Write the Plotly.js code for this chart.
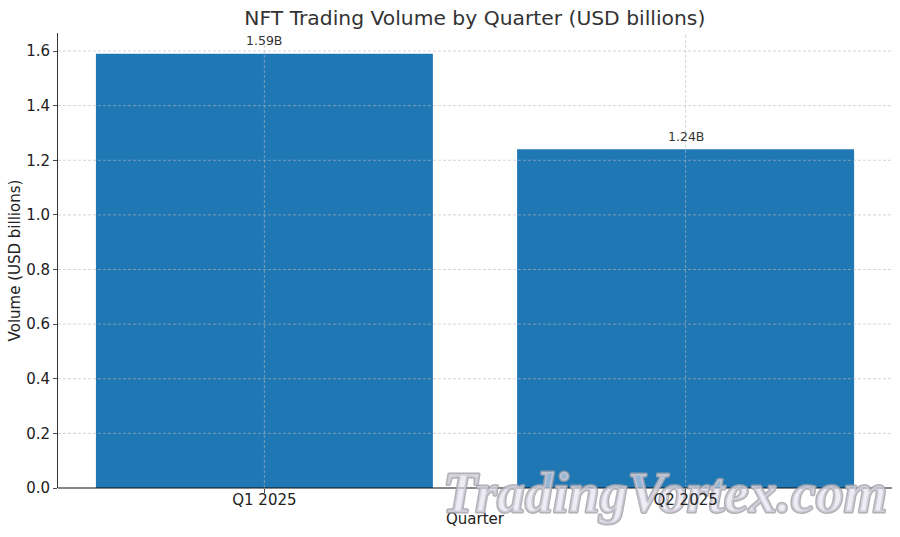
<!DOCTYPE html>
<html><head><meta charset="utf-8">
<script src="https://cdn.plot.ly/plotly-3.0.0.min.js"></script>
<style>
html,body{margin:0;padding:0;background:#fff}
g.annotation:last-of-type text{paint-order:stroke;stroke:rgba(165,165,172,0.85);stroke-width:3px;stroke-linejoin:round}
</style></head><body>
<div id="chart" style="width:900px;height:537px"></div>
<script>
const quarters = ["Q1 2025", "Q2 2025"];
const volumes = [1.59, 1.24];
const yTicks = [0, 0.2, 0.4, 0.6, 0.8, 1.0, 1.2, 1.4, 1.6];
const yLabels = ["0.0","0.2","0.4","0.6","0.8","1.0","1.2","1.4","1.6"];
const titleText = "NFT Trading Volume by Quarter (USD billions)";
const watermark = "TradingVortex.com";
const gridStyle = {color:"rgba(185,185,185,0.75)", width:0.8, dash:"3px,2px"};
const font = "DejaVu Sans, sans-serif";

const shapes = [];
yTicks.slice(1).forEach(v => shapes.push({type:"line",xref:"paper",x0:0,x1:1,yref:"y",y0:v,y1:v,line:gridStyle,layer:"above"}));
quarters.forEach(q => shapes.push({type:"line",yref:"paper",y0:0,y1:1,xref:"x",x0:q,x1:q,line:gridStyle,layer:"above"}));

const labels = quarters.map((q,i)=>({x:q,y:volumes[i],xref:"x",yref:"y",text:volumes[i].toFixed(2)+"B",showarrow:false,
  xanchor:"center",yanchor:"middle",yshift:13,font:{family:font,size:12.5,color:"#333333"}}));

Plotly.newPlot("chart",[{
  type:"bar", x:quarters, y:volumes, width:0.8,
  marker:{color:"#1f77b4",line:{width:0}}, hoverinfo:"skip"
}],{
  width:900,height:537,
  margin:{l:58,r:8.4,t:33,b:48.5,pad:0},
  paper_bgcolor:"#fff",plot_bgcolor:"#fff",
  showlegend:false,
  title:{text:titleText,font:{family:font,size:20.3,color:"#333333"},x:0.5276,xanchor:"center",y:0.966,yanchor:"middle"},
  xaxis:{type:"category",range:[-0.49,1.49],showgrid:false,zeroline:false,showline:false,
    ticks:"outside",ticklen:4,tickwidth:0.8,tickcolor:"#222",ticklabelstandoff:-6,
    tickfont:{family:font,size:15,color:"#222"},
    title:{text:"Quarter",font:{family:font,size:15,color:"#222"},standoff:5}},
  yaxis:{range:[0,1.666],tickvals:yTicks,ticktext:yLabels,showgrid:false,zeroline:false,
    showline:true,linecolor:"#333",linewidth:1,
    ticks:"outside",ticklen:4,tickwidth:0.8,tickcolor:"#222",
    tickfont:{family:font,size:15,color:"#222"},
    title:{text:"Volume (USD billions)",font:{family:font,size:15,color:"#222"},standoff:1}},
  shapes:shapes.concat([{type:"line",xref:"paper",x0:0,x1:1,yref:"paper",y0:0,y1:0,line:{color:"#111",width:1.2},layer:"above"}]),
  annotations:labels.concat([{text:watermark,xref:"paper",yref:"paper",x:0.728,y:-0.01,xanchor:"center",yanchor:"middle",showarrow:false,
    font:{family:"Liberation Serif, serif",size:56,weight:"bold",color:"rgba(226,224,236,0.6)",style:"italic"}}])
},{displayModeBar:false,staticPlot:true}).then(gd=>{
  const svgs = gd.querySelectorAll(".main-svg");
  const top = svgs[svgs.length-1];
  const layer = gd.querySelector(".xaxislayer-above");
  if (layer && top) top.appendChild(layer);
});
</script></body></html>
